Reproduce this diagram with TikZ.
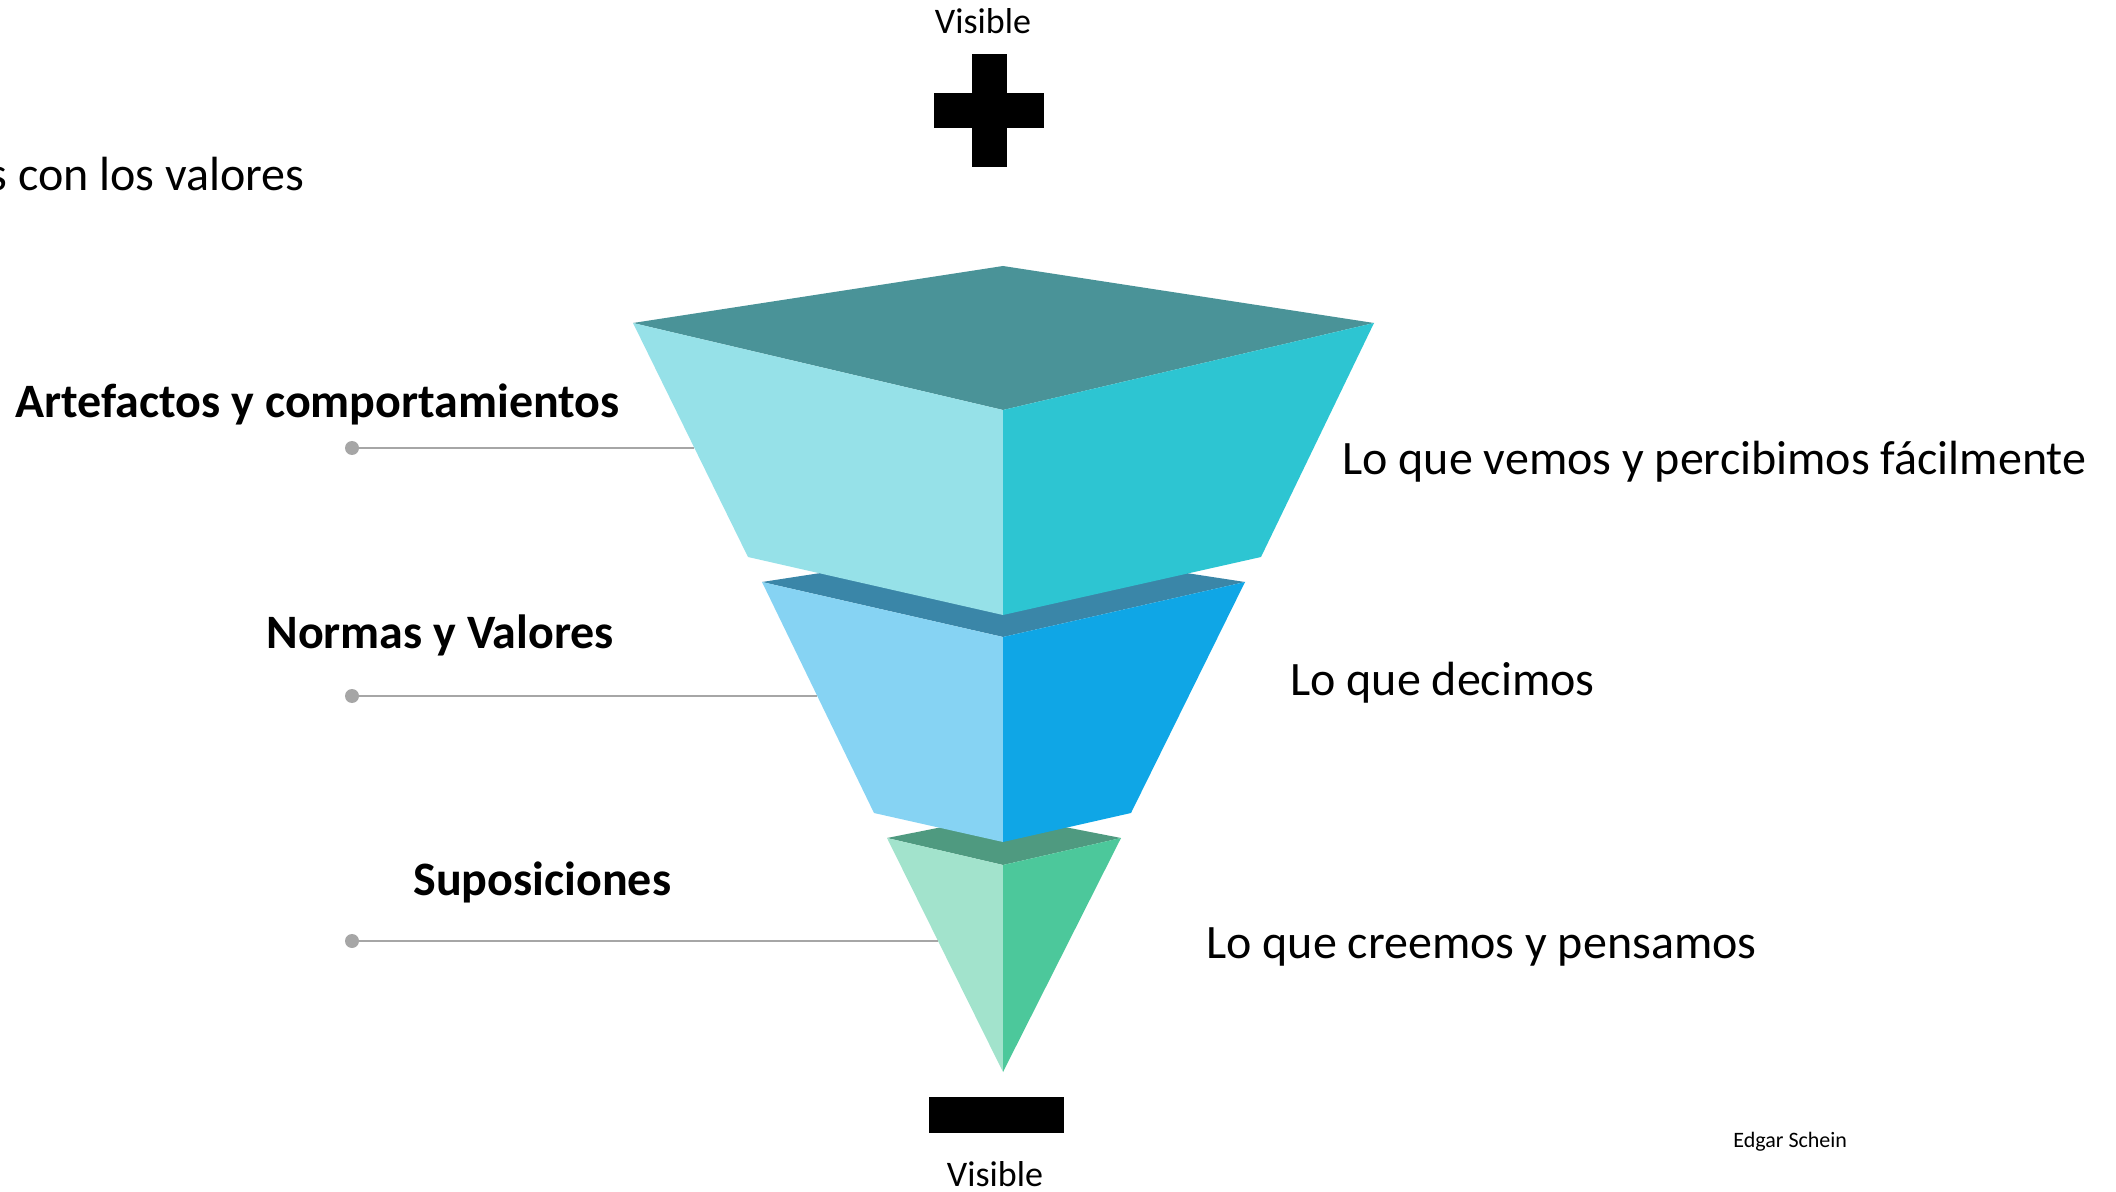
\documentclass[tikz,border=0pt]{standalone}
\usepackage{fontspec}
\setmainfont{Carlito}
\definecolor{leadgray}{HTML}{A6A6A6}
\definecolor{artTop}{HTML}{4A9398}
\definecolor{artLeft}{HTML}{96E1E8}
\definecolor{artRight}{HTML}{2DC5D2}
\definecolor{normBand}{HTML}{3A86A8}
\definecolor{normLeft}{HTML}{86D3F3}
\definecolor{normRight}{HTML}{0FA6E6}
\definecolor{supBand}{HTML}{4F9A80}
\definecolor{supLeft}{HTML}{A2E3CC}
\definecolor{supRight}{HTML}{4CC89B}
\tikzset{leader/.style = {draw=leadgray, line width=1pt},
         dot/.style = {circle, fill=leadgray, inner sep=0pt, minimum size=7pt},
         lbl/.style = {font=\fontsize{24}{29}\selectfont, anchor=base west, inner sep=0pt},
         lblbold/.style = {lbl, font=\fontsize{24}{29}\selectfont\bfseries},
         vis/.style = {font=\fontsize{18}{22}\selectfont, anchor=base, inner sep=0pt}}

\begin{document}
\begin{tikzpicture}[x=0.5pt, y=-0.5pt]
    \useasboundingbox (0,0) rectangle (2116,1192);
    % suposiciones
    \fill[supBand] (887,838) -- (1003,815) -- (1121,838) -- (1003,865) -- cycle;
    \fill[supLeft] (887,838) -- (1003,865) -- (1003,1072) -- cycle;
    \fill[supRight] (1003,865) -- (1121,838) -- (1003,1072) -- cycle;
    % normas y valores
    \fill[normBand] (762,582) -- (1003,545) -- (1245,582) -- (1003,637) -- cycle;
    \fill[normLeft] (762,582) -- (1003,637) -- (1003,842) -- (874,813) -- cycle;
    \fill[normRight] (1003,637) -- (1245,582) -- (1131,813) -- (1003,842) -- cycle;
    % artefactos
    \fill[artTop] (633,323) -- (1003,266) -- (1374,323) -- (1003,410) -- cycle;
    \fill[artLeft] (633,323) -- (1003,410) -- (1003,615) -- (748,557) -- cycle;
    \fill[artRight] (1003,410) -- (1374,323) -- (1261,557) -- (1003,615) -- cycle;
    % plus and minus
    \fill (934,93) rectangle (1044,128);
    \fill (972,54) rectangle (1007,167);
    \fill (929,1097) rectangle (1064,1133);

    \node[dot] (dotArt) at (352,448) {};
    \node[dot] (dotNorm) at (352,696) {};
    \node[dot] (dotSup) at (352,941) {};
    \coordinate (edgeArt) at (694,448);
    \coordinate (edgeNorm) at (817,696);
    \coordinate (edgeSup) at (938,941);
    \draw[leader] (dotArt.center) -- (edgeArt);
    \draw[leader] (dotNorm.center) -- (edgeNorm);
    \draw[leader] (dotSup.center) -- (edgeSup);

    \node[lblbold] (artefactos) at (15,418) {Artefactos y comportamientos};
    \node[lblbold] (normas) at (266,648) {Normas y Valores};
    \node[lblbold] (suposiciones) at (413,895) {Suposiciones};
    \node[lbl] (vemos) at (1342,475) {Lo que vemos y percibimos fácilmente};
    \node[lbl] (decimos) at (1290,695) {Lo que decimos};
    \node[lbl] (creemos) at (1206,958) {Lo que creemos y pensamos};
    \node[lbl, anchor=base east] (valores) at (305,191) {s con los valores};
    \node[vis] (visTop) at (983,34) {Visible};
    \node[vis] (visBot) at (995,1186) {Visible};
    \node[lbl, font=\fontsize{11}{13}\selectfont] (schein) at (1733,1147) {Edgar Schein};
\end{tikzpicture}
\end{document}
